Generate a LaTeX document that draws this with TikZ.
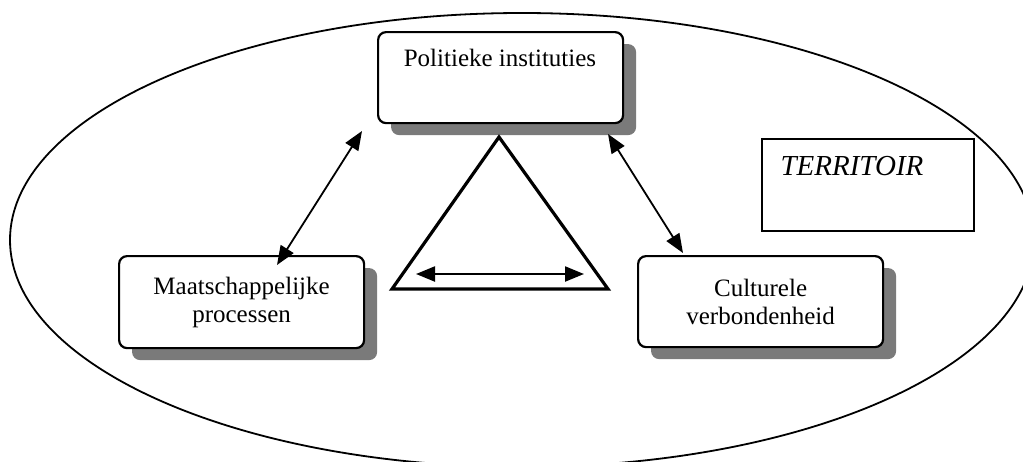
\documentclass[tikz,border=0pt]{standalone}
\usepackage{fontspec}
\setmainfont{Liberation Serif}
\usetikzlibrary{arrows.meta,shadows}

\tikzset{
  unitbox/.style={draw, line width=2.2pt, rounded corners=8pt, fill=white,
    minimum width=245pt, inner sep=0pt, align=center,
    font=\fontsize{25}{28}\selectfont,
    drop shadow={shadow xshift=13pt, shadow yshift=-12pt, fill=black!52, opacity=1}},
  link/.style={line width=1.8pt, {Triangle[length=19pt,width=15pt]}-{Triangle[length=19pt,width=15pt]}}
}

\begin{document}
\begin{tikzpicture}[x=1pt,y=-1pt]
  \useasboundingbox (0,0) rectangle (1023,461);
  \clip (0,0) rectangle (1023,461);

  % territory
  \draw[line width=1.8pt] (522,240) ellipse [x radius=512, y radius=227];

  % the three components
  \node[unitbox, minimum height=91pt, anchor=north west] (pol) at (377,31) {};
  \node[font=\fontsize{25}{28}\selectfont, anchor=base] (poltext) at (500,66) {Politieke instituties};

  \node[unitbox, minimum height=92pt, anchor=north west] (maat) at (118,255)
        {Maatschappelijke\\processen};
  \node[unitbox, minimum height=91pt, anchor=north west] (cult) at (637,255)
        {Culturele\\verbondenheid};

  % territory label box
  \node[draw, line width=2pt, minimum width=212pt, minimum height=92pt, anchor=north west] (terbox) at (761,138) {};
  \node[font=\fontsize{29}{32}\selectfont\itshape, anchor=base west] (ter) at (777,175) {TERRITOIR};

  % central triangle with inner arrow
  \coordinate (tA) at (499,137);
  \coordinate (tB) at (392,289);
  \coordinate (tC) at (608,289);
  \draw[line width=3.2pt, line join=miter] (tA) -- (tB) -- (tC) -- cycle;
  \coordinate (iL) at (416,274);
  \coordinate (iR) at (584,274);
  \draw[link, line width=2.2pt] (iL) -- (iR);

  % relations between the components
  \coordinate (l1) at (362,131);
  \coordinate (l2) at (277,265);
  \draw[link] (l1) -- (l2);
  \coordinate (r1) at (608,134);
  \coordinate (r2) at (683,253);
  \draw[link] (r1) -- (r2);
\end{tikzpicture}
\end{document}
